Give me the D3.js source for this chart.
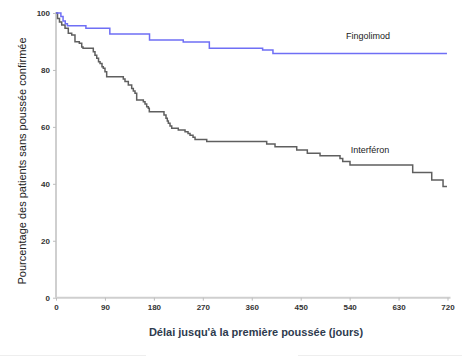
<!DOCTYPE html>
<html><head><meta charset="utf-8">
<script src="https://cdn.jsdelivr.net/npm/d3@7"></script>
<style>body{margin:0;background:#fff}svg{display:block}</style>
</head><body>
<svg id="c" width="462" height="357"></svg>
<script>
const xTicks = [0, 90, 180, 270, 360, 450, 540, 630, 720];
const yTicks = [0, 20, 40, 60, 80, 100];
const seriesNames = ["Fingolimod", "Interféron"];
// Kaplan-Meier steps: [day, percent]
const fingolimodSteps = [[0,100],[9,98.8],[13,97.2],[17,96.2],[21,95.5],[55,94.6],[99,92.6],[172,90.5],[234,89.8],[282,87.6],[380,87.0],[399,85.8],[719,85.8]];
const interferonSteps = [[0,100],[2.8,98.1],[6.4,96.8],[10.5,95.8],[16.6,94.6],[22.6,92.9],[28.9,92.3],[34.9,89.9],[42.9,89.4],[47.3,88.1],[49.7,87.6],[68.6,86.4],[71.7,85.2],[74.9,84.1],[78.2,82.9],[81,82.3],[84.6,81.1],[87,80.6],[90.1,79.4],[93.2,77.6],[123.8,76.8],[126.9,75.9],[133,74.7],[139.2,73.5],[142.2,72.6],[145.3,71.8],[148.4,69.4],[160.6,68.8],[163.7,68.0],[166.8,67.1],[169.8,66.5],[171.6,65.3],[198.6,64.2],[202.3,63.0],[204.7,62.1],[206.6,61.3],[209.7,60.3],[212.8,59.5],[224.9,58.9],[237.3,58.3],[242.8,57.7],[246.5,57.1],[252,56.4],[255.7,55.6],[277.2,54.9],[387.5,54.0],[402.8,53.0],[442.7,51.9],[462.2,50.7],[485.6,49.9],[522.3,48.9],[527.3,47.8],[540.7,46.6],[656,44.0],[691,41.3],[711.8,39.1],[719,39.1]];
const xTitle = "Délai jusqu'à la première poussée (jours)";
const yTitle = "Pourcentage des patients sans poussée confirmée";

const svg = d3.select("#c");
const x = d3.scaleLinear().domain([0, 720]).range([56, 447.5]);
const y = d3.scaleLinear().domain([0, 100]).range([297.7, 13]);

// faint bottom divider
svg.append("line").attr("x1",0).attr("x2",146).attr("y1",355.5).attr("y2",355.5).attr("stroke","#eeeeee");
svg.append("line").attr("x1",298).attr("x2",462).attr("y1",355.5).attr("y2",355.5).attr("stroke","#eeeeee");

const font = "Arial, 'Liberation Sans', sans-serif";

const xAxis = svg.append("g").attr("transform", `translate(0,${y(0)})`)
  .call(d3.axisBottom(x).tickValues(xTicks).tickSize(3).tickSizeOuter(0));
xAxis.select(".domain").attr("stroke","#cfcfcf").attr("stroke-width",2).attr("d", `M${x(0)},0H${x(720)+3}`);
xAxis.selectAll(".tick line").attr("stroke","#bdbdbd");
xAxis.selectAll(".tick text").attr("y",7).attr("font-family",font).attr("font-size",8).attr("font-weight","bold").attr("fill","#333");

const yAxis = svg.append("g").attr("transform", `translate(${x(0)},0)`)
  .call(d3.axisLeft(y).tickValues(yTicks).tickSize(3).tickSizeOuter(0));
yAxis.select(".domain").attr("stroke","#cfcfcf").attr("stroke-width",2).attr("d", `M0,${y(100)-1}V${y(0)}`);
yAxis.selectAll(".tick line").attr("stroke","#bdbdbd");
yAxis.selectAll(".tick text").attr("x",-6).attr("font-family",font).attr("font-size",8).attr("font-weight","bold").attr("fill","#333");

const line = d3.line().x(d => x(d[0])).y(d => y(d[1])).curve(d3.curveStepAfter);
svg.append("path").datum(interferonSteps).attr("d", line).attr("fill","none").attr("stroke","#5f5f5f").attr("stroke-width",1.5);
svg.append("path").datum(fingolimodSteps).attr("d", line).attr("fill","none").attr("stroke","#6f6ff5").attr("stroke-width",1.5);

svg.append("text").attr("x",368).attr("y",38.5).attr("text-anchor","middle")
  .attr("font-family",font).attr("font-size",9).attr("fill","#222").text(seriesNames[0]);
svg.append("text").attr("x",370).attr("y",152.5).attr("text-anchor","middle")
  .attr("font-family",font).attr("font-size",9).attr("fill","#222").text(seriesNames[1]);

svg.append("text").attr("x",256).attr("y",336).attr("text-anchor","middle")
  .attr("font-family",font).attr("font-size",11).attr("font-weight","bold").attr("fill","#2e3b4e").text(xTitle);
svg.append("text").attr("transform","translate(26,161) rotate(-90)").attr("text-anchor","middle")
  .attr("font-family",font).attr("font-size",11).attr("fill","#222").text(yTitle);
</script>
</body></html>
